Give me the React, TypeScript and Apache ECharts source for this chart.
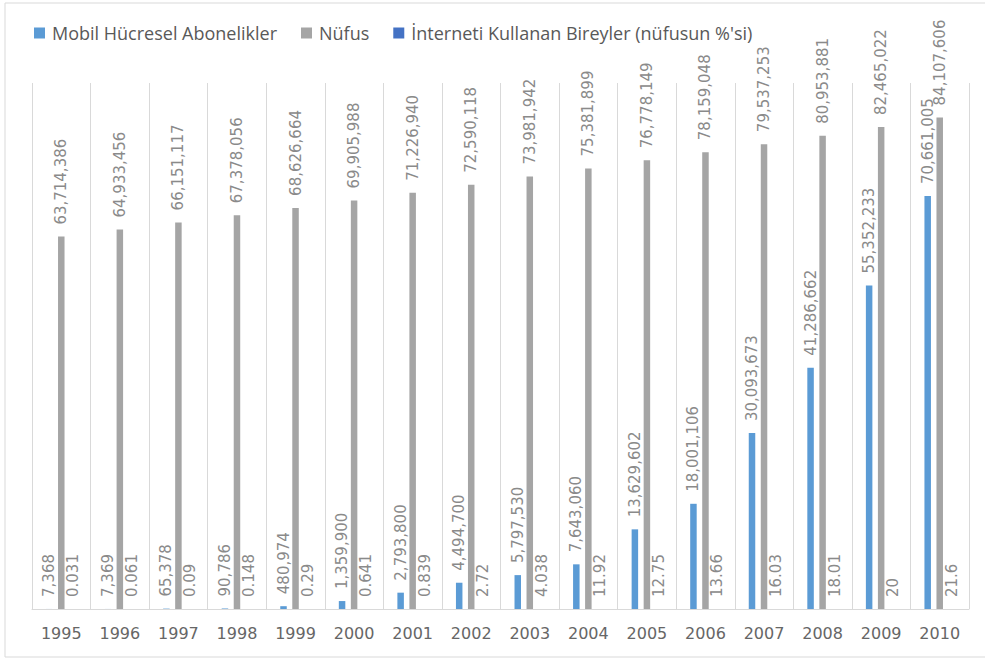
import React, { useEffect, useRef } from "react";
import * as echarts from "echarts";

const years = ["1995","1996","1997","1998","1999","2000","2001","2002","2003","2004","2005","2006","2007","2008","2009","2010"];
const mobile = [7368, 7369, 65378, 90786, 480974, 1359900, 2793800, 4494700, 5797530, 7643060, 13629602, 18001106, 30093673, 41286662, 55352233, 70661005];
const population = [63714386, 64933456, 66151117, 67378056, 68626664, 69905988, 71226940, 72590118, 73981942, 75381899, 76778149, 78159048, 79537253, 80953881, 82465022, 84107606];
const internet = [0.031, 0.061, 0.09, 0.148, 0.29, 0.641, 0.839, 2.72, 4.038, 11.92, 12.75, 13.66, 16.03, 18.01, 20, 21.6];

const FONT = "'Open Sans', sans-serif";
const NUMFONT = "'DejaVu Sans', sans-serif";
const fmt = (v: number) => v.toLocaleString("en-US");

export default function App() {
  const ref = useRef<HTMLDivElement>(null);
  useEffect(() => {
    const chart = echarts.init(ref.current!, null, { renderer: "svg" });
    const label = (formatter: (p: any) => string) => ({
      show: true,
      position: "top",
      rotate: 90,
      align: "left",
      verticalAlign: "middle",
      distance: 12,
      color: "#8a8a8a",
      fontFamily: NUMFONT,
      fontSize: 15,
      formatter,
    });
    chart.setOption({
      animation: false,
      backgroundColor: "#ffffff",
      textStyle: { fontFamily: FONT },
      graphic: [
        {
          type: "rect",
          shape: { x: 5, y: 3, width: 1000, height: 654 },
          style: { fill: "none", stroke: "#d9d9d9", lineWidth: 1 },
          silent: true,
        },
      ],
      legend: {
        left: 29,
        top: 19,
        itemWidth: 11,
        itemHeight: 11,
        itemGap: 24,
        icon: "rect",
        textStyle: { color: "#595959", fontSize: 18, fontFamily: FONT, padding: [0, 0, 0, 2] },
        data: ["Mobil Hücresel Abonelikler", "Nüfus", "İnterneti Kullanan Bireyler (nüfusun %'si)"],
      },
      grid: { left: 32, right: 16, top: 83, bottom: 50, containLabel: false },
      xAxis: {
        type: "category",
        data: years,
        axisLine: { show: true, lineStyle: { color: "#d9d9d9", width: 1 } },
        axisTick: { show: false },
        splitLine: { show: true, lineStyle: { color: "#d9d9d9", width: 1 } },
        axisLabel: { color: "#666666", fontSize: 16, fontFamily: NUMFONT, margin: 16 },
      },
      yAxis: {
        type: "value",
        min: 0,
        max: 90000000,
        show: false,
        splitLine: { show: false },
      },
      series: [
        {
          name: "Mobil Hücresel Abonelikler",
          type: "bar",
          data: mobile,
          barWidth: 6.5,
          barGap: "85%",
          itemStyle: { color: "#5B9BD5" },
          label: label((p) => fmt(p.value)),
        },
        {
          name: "Nüfus",
          type: "bar",
          data: population,
          barWidth: 6.5,
          barGap: "85%",
          itemStyle: { color: "#A5A5A5" },
          label: label((p) => fmt(p.value)),
        },
        {
          name: "İnterneti Kullanan Bireyler (nüfusun %'si)",
          type: "bar",
          data: internet,
          barWidth: 6.5,
          barGap: "85%",
          itemStyle: { color: "#4472C4" },
          label: label((p) => String(p.value)),
        },
      ],
    });
    return () => chart.dispose();
  }, []);
  return (
    <div
      ref={ref}
      style={{ position: "absolute", left: 0, top: 0, width: 985, height: 659 }}
    />
  );
}
